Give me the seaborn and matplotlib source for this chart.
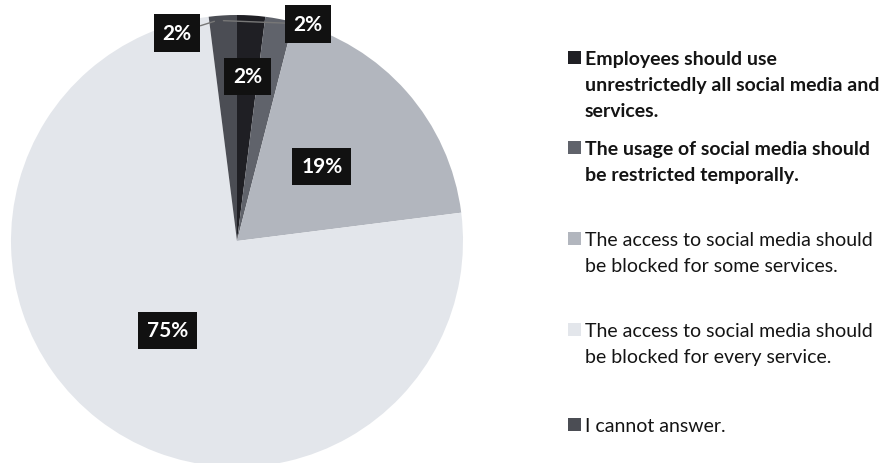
import matplotlib
matplotlib.use("Agg")
import numpy as np
import pandas as pd
import matplotlib.pyplot as plt
import seaborn as sns
from matplotlib.patches import Rectangle

# ---- data ----
categories = [
    "Employees should use\nunrestrictedly all social media and\nservices.",
    "The usage of social media should\nbe restricted temporally.",
    "The access to social media should\nbe blocked for some services.",
    "The access to social media should\nbe blocked for every service.",
    "I cannot answer.",
]
values = [2, 2, 19, 75, 2]
pct_labels = ["2%", "2%", "19%", "75%", "2%"]

# ---- styles ----
colors = ["#1f1f24", "#60636b", "#b2b6be", "#e3e6eb", "#4b4d54"]
legend_weights = ["bold", "bold", "normal", "normal", "normal"]

sns.set_theme(style="white")
plt.rcParams["font.family"] = ["Lato", "DejaVu Sans"]

W, H = 886, 464
fig = plt.figure(figsize=(W / 100, H / 100), dpi=100)
cx, cy, R = 237, 242, 226
ax = fig.add_axes([(cx - R) / W, (H - cy - R) / H, 2 * R / W, 2 * R / H])

wedges, _ = ax.pie(values, colors=colors, startangle=90, counterclock=False,
                   radius=1, wedgeprops=dict(linewidth=0))
ax.set_xlim(-1, 1)
ax.set_ylim(-1, 1)
ax.axis("off")

box = dict(boxstyle="square,pad=0.42", facecolor="#111111", edgecolor="none")
label_r = [0.73, None, 0.5, 0.5, None]
outside_text = {1: (0.314, 0.96), 4: (-0.265, 0.92)}
outside_xy = {1: (-0.06, 0.975), 4: (-0.10, 0.972)}
for i, w in enumerate(wedges):
    mid = np.deg2rad((w.theta1 + w.theta2) / 2)
    if label_r[i] is not None:
        r = label_r[i]
        ax.text(r * np.cos(mid), r * np.sin(mid), pct_labels[i], ha="center",
                va="center", color="white", fontsize=15, fontweight="bold",
                bbox=box)
    else:
        ax.annotate(pct_labels[i], xy=outside_xy[i], xytext=outside_text[i],
                    ha="center", va="center", color="white", fontsize=15,
                    fontweight="bold", bbox=box, annotation_clip=False,
                    arrowprops=dict(arrowstyle="-", color="#777777", lw=1.0,
                                    shrinkA=0, shrinkB=0))

# ---- legend (manual layout) ----
baselines = [65, 155, 246, 337, 432]
line_step = 26
for i, lab in enumerate(categories):
    yb = baselines[i]
    fig.patches.append(Rectangle((568 / W, 1 - yb / H), 13 / W, 13 / H,
                                 transform=fig.transFigure, facecolor=colors[i],
                                 edgecolor="none"))
    for k, line in enumerate(lab.split("\n")):
        fig.text(585 / W, 1 - (yb + k * line_step) / H, line, ha="left",
                 va="baseline", fontsize=14, fontweight=legend_weights[i],
                 color="#141414")

fig.savefig("out.png", dpi=100)
